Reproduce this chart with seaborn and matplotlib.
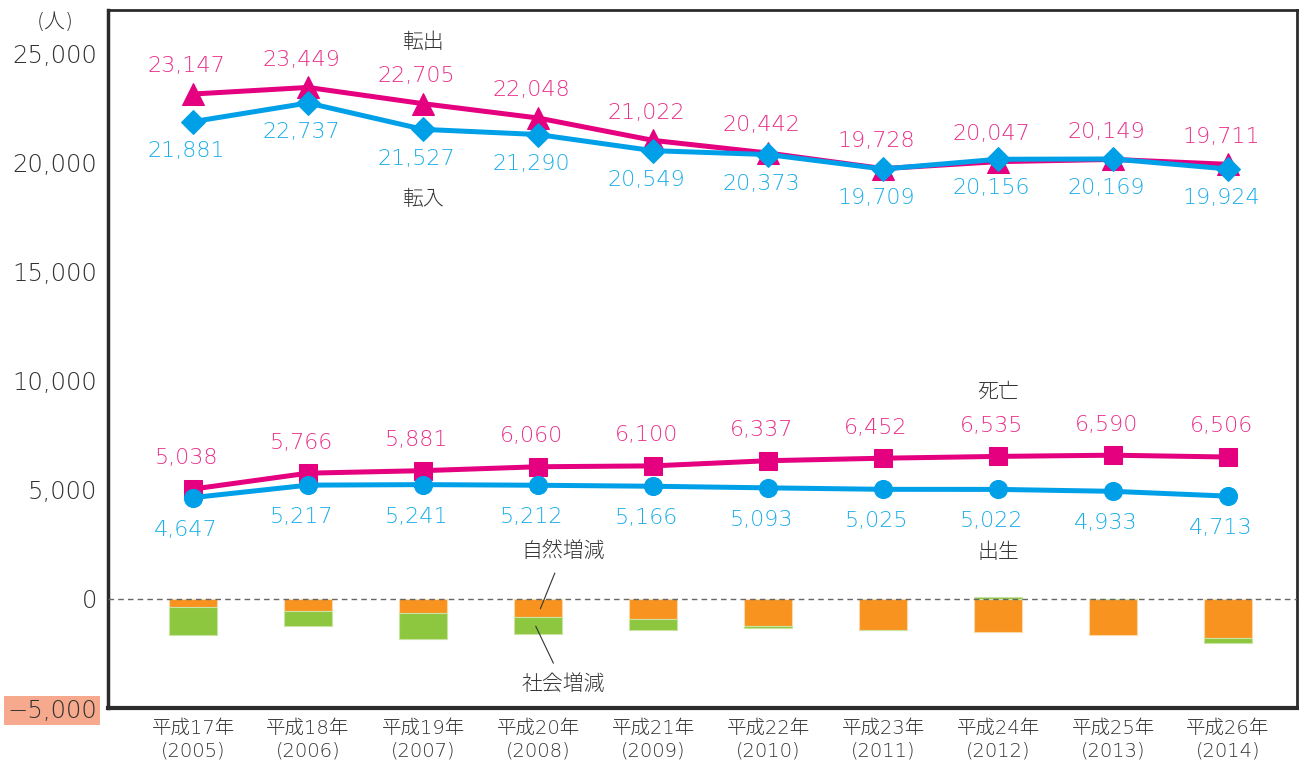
import numpy as np
import seaborn as sns
import matplotlib.pyplot as plt

sns.set_style("white")
plt.rcParams['font.family'] = ['DejaVu Sans', 'Noto Sans CJK JP']
plt.rcParams['font.weight'] = 'light'

# data
years = ['平成17年\n(2005)', '平成18年\n(2006)', '平成19年\n(2007)', '平成20年\n(2008)',
         '平成21年\n(2009)', '平成22年\n(2010)', '平成23年\n(2011)', '平成24年\n(2012)',
         '平成25年\n(2013)', '平成26年\n(2014)']
tenshutsu = [23147, 23449, 22705, 22048, 21022, 20442, 19728, 20047, 20149, 19924]   # 転出
tennyu = [21881, 22737, 21527, 21290, 20549, 20373, 19709, 20156, 20169, 19711]      # 転入
shibou = [5038, 5766, 5881, 6060, 6100, 6337, 6452, 6535, 6590, 6506]                # 死亡
shussei = [4647, 5217, 5241, 5212, 5166, 5093, 5025, 5022, 4933, 4713]               # 出生
# labels as printed in the source (2014 migration labels are printed swapped)
tenshutsu_lbl = ['23,147', '23,449', '22,705', '22,048', '21,022', '20,442', '19,728', '20,047', '20,149', '19,711']
tennyu_lbl = ['21,881', '22,737', '21,527', '21,290', '20,549', '20,373', '19,709', '20,156', '20,169', '19,924']

MAG = '#E4007F'
CYAN = '#00A0E9'
ORANGE = '#F7931E'
GREEN = '#8DC63F'
DARK = '#333333'

x = np.arange(len(years))
natural = np.array(shussei) - np.array(shibou)
social = np.array(tennyu) - np.array(tenshutsu)

fig = plt.figure(figsize=(12.99, 7.67), dpi=100)
ax = fig.add_axes([0.0831, 0.0769, 0.9154, 0.9101])

# stacked bars
ax.bar(x, natural, width=0.41, color=ORANGE, edgecolor='#FCD9A8', linewidth=0.8, zorder=2)
ax.bar(x, social, bottom=np.where(social < 0, natural, 0), width=0.41, color=GREEN,
       edgecolor='#C9E4A2', linewidth=0.8, zorder=2)
ax.axhline(0, color='#666666', linestyle=(0, (4, 3)), linewidth=1, zorder=3)

# lines
sns.lineplot(x=x, y=tenshutsu, ax=ax, color=MAG, linewidth=3.6, marker='^', markersize=16,
             markeredgecolor=MAG, zorder=4)
sns.lineplot(x=x, y=tennyu, ax=ax, color=CYAN, linewidth=3.6, marker='D', markersize=12,
             markeredgecolor=CYAN, zorder=5)
sns.lineplot(x=x, y=shibou, ax=ax, color=MAG, linewidth=3.6, marker='s', markersize=13,
             markeredgecolor=MAG, zorder=4)
sns.lineplot(x=x, y=shussei, ax=ax, color=CYAN, linewidth=3.6, marker='o', markersize=13,
             markeredgecolor=CYAN, zorder=5)

lab_kw = dict(textcoords='offset points', ha='center', va='center', fontsize=16)
for i in range(len(x)):
    ax.annotate(tenshutsu_lbl[i], (x[i], tenshutsu[i]), xytext=(-5, 20), color='#E8308A', **lab_kw)
    ax.annotate(tennyu_lbl[i], (x[i], tennyu[i]), xytext=(-5, -21), color='#1AADE8', **lab_kw)
    ax.annotate(f'{shibou[i]:,}', (x[i], shibou[i]), xytext=(-5, 22), color='#E8308A', **lab_kw)
    ax.annotate(f'{shussei[i]:,}', (x[i], shussei[i]), xytext=(-5, -23), color='#1AADE8', **lab_kw)

# series names
nm_kw = dict(ha='center', va='center', fontsize=15, color=DARK)
ax.text(2, 25550, '転出', **nm_kw)
ax.text(2, 18350, '転入', **nm_kw)
ax.text(7, 9500, '死亡', **nm_kw)
ax.text(7, 2150, '出生', **nm_kw)
ax.annotate('自然増減', xy=(3.02, -450), xytext=(3.22, 2150), ha='center', va='center',
            fontsize=15, color=DARK,
            arrowprops=dict(arrowstyle='-', color=DARK, lw=0.8, shrinkB=0, shrinkA=6))
ax.annotate('社会増減', xy=(2.98, -1250), xytext=(3.22, -3900), ha='center', va='center',
            fontsize=15, color=DARK,
            arrowprops=dict(arrowstyle='-', color=DARK, lw=0.8, shrinkB=0, shrinkA=6))

# axes
ax.set_xlim(-0.74, 9.6)
ax.set_ylim(-5000, 27000)
ax.set_xticks(x)
ax.set_xticklabels(years, fontsize=14, color=DARK, linespacing=1.2)
yt = [-5000, 0, 5000, 10000, 15000, 20000, 25000]
ax.set_yticks(yt)
ax.set_yticklabels([f'{v:,}'.replace('-', '−') for v in yt], fontsize=17.5, color=DARK)
ax.tick_params(axis='both', length=0)
ax.tick_params(axis='y', pad=8)
ax.tick_params(axis='x', pad=8)
ax.get_yticklabels()[0].set_bbox(dict(facecolor='#F6A98C', edgecolor='none', pad=2))
ax.grid(False)
for s in ax.spines.values():
    s.set_color('#2B2B2B')
    s.set_linewidth(2)
ax.spines['bottom'].set_linewidth(3)
ax.spines['left'].set_linewidth(2.5)

fig.text(0.0423, 0.9713, '(人)', ha='center', va='center', fontsize=15, color=DARK)

fig.savefig('out.png', dpi=100)
